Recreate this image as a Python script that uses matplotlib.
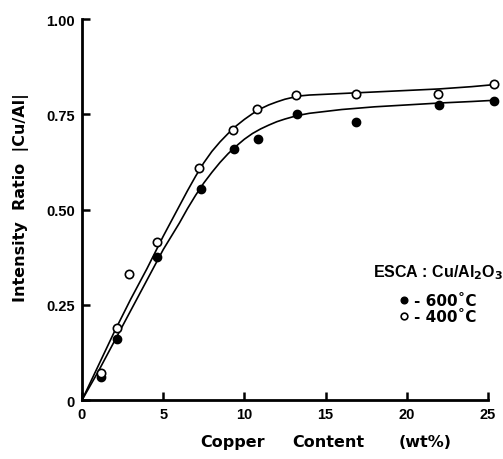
import numpy as np
import matplotlib.pyplot as plt
from matplotlib.ticker import FixedLocator

plt.rcParams['font.family'] = ['Liberation Sans', 'DejaVu Sans']
plt.rcParams['font.weight'] = 'bold'

# measured points (Cu wt%, intensity ratio)
cu_600 = [1.2, 2.15, 4.6, 7.3, 9.35, 10.85, 13.25, 16.9, 22.0, 25.4]
ratio_600 = [0.06, 0.16, 0.375, 0.555, 0.66, 0.685, 0.75, 0.73, 0.775, 0.785]
cu_400 = [1.2, 2.15, 2.9, 4.6, 7.2, 9.3, 10.75, 13.15, 16.9, 21.95, 25.4]
ratio_400 = [0.07, 0.19, 0.33, 0.415, 0.61, 0.71, 0.765, 0.80, 0.805, 0.805, 0.83]

# hand drawn curves
curve_x = [0, 1, 2, 3, 4, 5, 6, 6.5, 7, 7.5, 8, 8.5, 9, 9.5, 10, 10.5, 11, 11.5,
           12, 12.5, 13, 13.5, 14, 16, 18, 20, 22, 24, 25.3]
curve_400 = [0, 0.09, 0.18, 0.265, 0.345, 0.43, 0.51, 0.55, 0.588, 0.623, 0.653,
             0.678, 0.70, 0.72, 0.737, 0.752, 0.765, 0.775, 0.783, 0.79, 0.795,
             0.799, 0.801, 0.805, 0.809, 0.813, 0.817, 0.823, 0.828]
curve_600 = [0, 0.075, 0.155, 0.235, 0.315, 0.395, 0.465, 0.503, 0.538, 0.57, 0.598,
             0.624, 0.647, 0.667, 0.685, 0.70, 0.712, 0.722, 0.731, 0.738, 0.744,
             0.749, 0.753, 0.763, 0.77, 0.775, 0.78, 0.784, 0.787]

xticks = [0, 5, 10, 15, 20, 25]
yticks = [0, 0.25, 0.50, 0.75, 1.00]
ytick_labels = ['0', '0.25', '0.50', '0.75', '1.00']

fig = plt.figure(figsize=(5.03, 4.60), dpi=100)
ax = fig.add_axes([0.163, 0.128, 0.807, 0.828])

ax.plot(curve_x, curve_400, color='black', lw=1.2, clip_on=False)
ax.plot(curve_x, curve_600, color='black', lw=1.2, clip_on=False)
ax.plot(cu_600, ratio_600, 'o', ms=6, mfc='black', mec='black', clip_on=False,
        label='- 600˚C', zorder=5)
ax.plot(cu_400, ratio_400, 'o', ms=6, mfc='white', mec='black', mew=1.2,
        clip_on=False, label='- 400˚C', zorder=5)

ax.set_xlim(0, 25)
ax.set_ylim(0, 1.0)
ax.spines['top'].set_visible(False)
ax.spines['right'].set_visible(False)
for s in ['left', 'bottom']:
    ax.spines[s].set_linewidth(2)
ax.xaxis.set_major_locator(FixedLocator(xticks))
ax.set_yticks(yticks)
ax.set_yticklabels(ytick_labels)
ax.tick_params(direction='in', length=6, width=1.8, labelsize=10.5, pad=5)
for lab in ax.get_xticklabels() + ax.get_yticklabels():
    lab.set_fontweight('bold')

lab_font = {'family': 'DejaVu Sans', 'weight': 'bold', 'size': 11.5}
fig.text(0.042, 0.57, 'Intensity  Ratio  |Cu/Al|', rotation=90, ha='center',
         va='center', fontdict=lab_font)
fig.text(0.398, 0.039, 'Copper', ha='left', va='center', fontdict=lab_font)
fig.text(0.582, 0.039, 'Content', ha='left', va='center', fontdict=lab_font)
fig.text(0.793, 0.039, '(wt%)', ha='left', va='center', fontdict=lab_font)

# legend block
ax.text(0.878, 0.336, 'ESCA : Cu/Al$_2$O$_3$', transform=ax.transAxes,
        ha='center', va='center', fontsize=11.5, fontweight='bold',
        family='Liberation Sans')
leg = ax.legend(frameon=False, loc='center', bbox_to_anchor=(0.877, 0.24),
                handlelength=0.5, handletextpad=0.4, labelspacing=0.1,
                markerscale=0.8,
                prop={'family': 'DejaVu Sans', 'size': 11, 'weight': 'bold'})

fig.savefig('out.png', dpi=100)
